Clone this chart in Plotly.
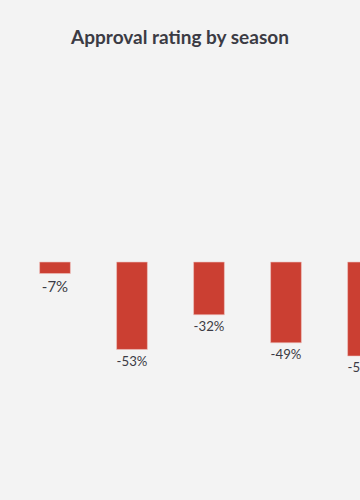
import plotly.graph_objects as go

seasons = ["Season 1", "Season 2", "Season 3", "Season 4", "Season 5"]
approval = [-7, -53, -32, -49, -57]
labels = [f"{v}%" for v in approval]

BAR = "#cb3f32"
TEXT = "#3b3b44"
BG = "#f3f3f3"

fig = go.Figure(
    go.Bar(
        x=seasons,
        y=approval,
        text=labels,
        textposition="outside",
        textfont=dict(family="Lato, sans-serif", size=15, color=TEXT),
        marker=dict(color=BAR, line=dict(color="#f0c8c4", width=0.6)),
        cliponaxis=True,
        hoverinfo="skip",
    )
)

fig.update_layout(
    width=360,
    height=500,
    paper_bgcolor=BG,
    plot_bgcolor=BG,
    margin=dict(l=0, r=0, t=97, b=73),
    bargap=0.6,
    showlegend=False,
    title=dict(
        text="<b>Approval rating by season</b>",
        x=0.5,
        xanchor="center",
        y=0.925,
        yanchor="middle",
        font=dict(family="Lato, sans-serif", size=19, color=TEXT),
    ),
    xaxis=dict(
        range=[-0.714, 3.961],
        visible=False,
        fixedrange=True,
    ),
    yaxis=dict(
        range=[-100, 100],
        visible=False,
        fixedrange=True,
    ),
)

fig.write_html("out.html")
